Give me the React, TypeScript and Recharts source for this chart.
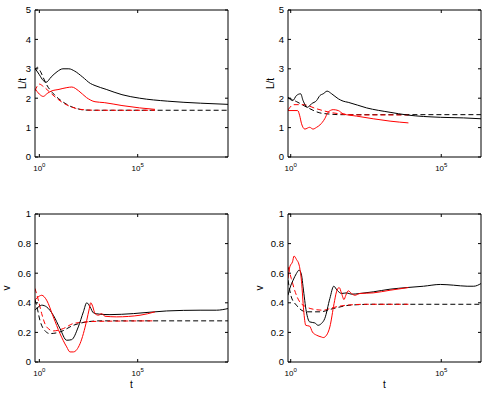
import { LineChart, Line, XAxis, YAxis } from "recharts";

// each point is [log10(t), value]
type Pt = [number, number];

const FONT = '"Liberation Sans", Arial, Helvetica, sans-serif';

const xTicks = [1, 1e5];
const lTicks = [0, 1, 2, 3, 4, 5];
const vTicks = [0, 0.2, 0.4, 0.6, 0.8, 1];

// top left: L/t
const tlBlack: Pt[] = [
  [-0.22, 3.02], [0, 2.8], [0.2, 2.6], [0.34, 2.54], [0.6, 2.72], [0.9, 2.9],
  [1.2, 3.0], [1.5, 3.0], [1.8, 2.92], [2.2, 2.72], [2.6, 2.5], [2.83, 2.43],
  [3.4, 2.3], [4.2, 2.12], [5.1, 2.0], [6.5, 1.9], [8.2, 1.83], [9.59, 1.79],
];
const tlBlackDash: Pt[] = [
  [-0.22, 2.95], [-0.1, 3.05], [0.05, 2.92], [0.2, 2.7], [0.37, 2.46], [0.65, 2.2],
  [0.97, 1.99], [1.25, 1.85], [1.56, 1.73], [1.9, 1.65], [2.24, 1.6], [2.8, 1.59],
  [9.59, 1.59],
];
const tlRed: Pt[] = [
  [-0.22, 2.33], [0, 2.14], [0.2, 2.06], [0.4, 2.16], [0.6, 2.24], [1.0, 2.3],
  [1.4, 2.36], [1.65, 2.38], [2.0, 2.25], [2.4, 2.02], [2.83, 1.88], [3.3, 1.85],
  [4.2, 1.75], [5.1, 1.67], [5.88, 1.62],
];
const tlRedDash: Pt[] = [
  [-0.22, 2.25], [0.0, 2.48], [0.2, 2.4], [0.54, 2.2], [0.84, 2.02], [1.14, 1.87],
  [1.4, 1.77], [1.64, 1.7], [2.0, 1.63], [2.4, 1.6], [3.0, 1.59], [5.88, 1.59],
];

// top right: L/t
const trBlack: Pt[] = [
  [-0.09, 2.03], [0.07, 1.92], [0.19, 2.09], [0.33, 2.15], [0.41, 1.92], [0.56, 1.69],
  [0.69, 1.81], [0.86, 1.92], [0.97, 2.09], [1.08, 2.15], [1.21, 2.24], [1.36, 2.15],
  [1.58, 1.98], [1.74, 1.9], [1.91, 1.86], [2.52, 1.67], [3.3, 1.52], [3.86, 1.43],
  [4.97, 1.35], [5.74, 1.33], [6.32, 1.3],
];
const trBlackDash: Pt[] = [
  [-0.09, 2.02], [0.2, 1.88], [0.58, 1.67], [0.97, 1.5], [1.3, 1.46], [1.63, 1.44],
  [6.32, 1.44],
];
const trRed: Pt[] = [
  [-0.09, 1.58], [0.23, 1.58], [0.3, 1.4], [0.36, 1.13], [0.47, 0.95], [0.63, 1.01],
  [0.74, 0.95], [0.86, 1.01], [0.97, 1.09], [1.13, 1.3], [1.24, 1.52], [1.41, 1.61],
  [1.58, 1.58], [1.74, 1.47], [2.19, 1.39], [2.74, 1.3], [3.3, 1.22], [3.91, 1.16],
];
const trRedDash: Pt[] = [
  [-0.09, 1.6], [0.1, 1.78], [0.41, 1.78], [0.86, 1.64], [1.3, 1.52], [1.63, 1.47],
  [2.19, 1.43], [3.91, 1.43],
];

// bottom left: v
const blBlack: Pt[] = [
  [-0.22, 0.35], [0, 0.377], [0.12, 0.384], [0.37, 0.372], [0.71, 0.316], [1.05, 0.226],
  [1.39, 0.147], [1.64, 0.151], [1.98, 0.237], [2.24, 0.339], [2.41, 0.4], [2.58, 0.372],
  [2.75, 0.332], [3.08, 0.323], [3.59, 0.32], [4.78, 0.327], [6.47, 0.345], [8.17, 0.35],
  [9.0, 0.35], [9.59, 0.361],
];
const blBlackDash: Pt[] = [
  [-0.22, 0.42], [-0.14, 0.384], [0.03, 0.282], [0.2, 0.226], [0.54, 0.192], [1.05, 0.203],
  [1.73, 0.248], [2.41, 0.271], [3.08, 0.278], [9.59, 0.278],
];
const blRed: Pt[] = [
  [-0.22, 0.42], [0, 0.445], [0.12, 0.451], [0.37, 0.418], [0.71, 0.305], [1.05, 0.192],
  [1.39, 0.102], [1.56, 0.068], [1.73, 0.068], [2.07, 0.124], [2.41, 0.282], [2.54, 0.361],
  [2.61, 0.4], [2.71, 0.377], [2.83, 0.327], [3.0, 0.316], [3.17, 0.327], [3.34, 0.309],
  [3.93, 0.305], [5.12, 0.316], [5.88, 0.339],
];
const blRedDash: Pt[] = [
  [-0.22, 0.497], [-0.05, 0.418], [0.12, 0.327], [0.37, 0.237], [0.71, 0.21], [1.22, 0.226],
  [1.73, 0.26], [2.41, 0.271], [3.08, 0.275], [5.88, 0.278],
];

// bottom right: v
const brBlack: Pt[] = [
  [-0.09, 0.451], [-0.03, 0.497], [0.08, 0.553], [0.19, 0.598], [0.28, 0.621], [0.36, 0.587],
  [0.41, 0.508], [0.52, 0.339], [0.63, 0.271], [0.8, 0.264], [0.91, 0.248], [1.02, 0.26],
  [1.13, 0.293], [1.3, 0.429], [1.43, 0.512], [1.54, 0.485], [1.69, 0.463], [1.86, 0.467],
  [2.02, 0.458], [2.3, 0.463], [2.74, 0.474], [3.3, 0.492], [3.86, 0.503], [4.41, 0.512],
  [4.97, 0.524], [5.41, 0.519], [5.86, 0.512], [6.08, 0.512], [6.32, 0.53],
];
const brBlackDash: Pt[] = [
  [-0.09, 0.553], [0.02, 0.44], [0.19, 0.384], [0.52, 0.339], [0.97, 0.339], [1.41, 0.361],
  [1.97, 0.384], [2.74, 0.39], [6.32, 0.39],
];
const brRed: Pt[] = [
  [-0.09, 0.564], [-0.03, 0.643], [0.06, 0.677], [0.11, 0.716], [0.19, 0.693], [0.28, 0.655],
  [0.36, 0.542], [0.43, 0.35], [0.5, 0.248], [0.63, 0.242], [0.72, 0.203], [0.86, 0.181],
  [1.02, 0.169], [1.08, 0.165], [1.19, 0.181], [1.3, 0.237], [1.44, 0.395], [1.52, 0.474],
  [1.61, 0.503], [1.69, 0.463], [1.77, 0.422], [1.83, 0.451], [1.91, 0.481], [2.02, 0.463],
  [2.13, 0.451], [2.3, 0.463], [2.74, 0.467], [3.3, 0.485], [3.91, 0.503],
];
const brRedDash: Pt[] = [
  [-0.09, 0.643], [0.02, 0.564], [0.13, 0.485], [0.3, 0.406], [0.52, 0.372], [0.74, 0.357],
  [1.08, 0.35], [1.41, 0.368], [1.86, 0.384], [2.52, 0.39], [3.91, 0.39],
];

const rows = (pts: Pt[]) => pts.map(([e, v]) => ({ t: Math.pow(10, e), v }));

const TICK = 3;

function LeftTick(props: any) {
  const { x, y, payload } = props;
  return (
    <g>
      <line x1={x} y1={y} x2={x + TICK} y2={y} stroke="#000" />
      <text x={x - 4} y={y} dy="0.35em" textAnchor="end" fontSize={9.5} fontFamily={FONT} fill="#000">
        {String(payload.value)}
      </text>
    </g>
  );
}

function RightTick(props: any) {
  const { x, y } = props;
  return <line x1={x} y1={y} x2={x - TICK} y2={y} stroke="#000" />;
}

function BottomTick(props: any) {
  const { x, y, payload } = props;
  const exp = Math.round(Math.log10(payload.value));
  return (
    <g>
      <line x1={x} y1={y} x2={x} y2={y - TICK} stroke="#000" />
      <text x={x} y={y + 14} textAnchor="middle" fontFamily={FONT} fill="#000">
        <tspan fontSize={8}>10</tspan>
        <tspan fontSize={6} dy={-4}>{exp}</tspan>
      </text>
    </g>
  );
}

function TopTick(props: any) {
  const { x, y } = props;
  return <line x1={x} y1={y} x2={x} y2={y + TICK} stroke="#000" />;
}

type PanelProps = {
  x: number;
  y: number;
  w: number;
  h: number;
  // plot box edges inside the panel
  box: { top: number; right: number; bottom: number; left: number };
  xExp: [number, number];
  yTicks: number[];
  black: Pt[];
  blackDash: Pt[];
  red: Pt[];
  redDash: Pt[];
  yLabel: string;
  yLabelX: number;
  showT: boolean;
};

function Panel(p: PanelProps) {
  const plotW = p.w - p.box.left - p.box.right;
  const plotH = p.h - p.box.top - p.box.bottom;
  // every axis takes 1px, so margins are one less than the box edges
  const margin = {
    top: p.box.top - 1,
    right: p.box.right - 1,
    bottom: p.box.bottom - 1,
    left: p.box.left - 1,
  };
  const domain = [Math.pow(10, p.xExp[0]), Math.pow(10, p.xExp[1])];
  const yDomain = [p.yTicks[0], p.yTicks[p.yTicks.length - 1]];
  const series = [
    { d: p.blackDash, c: "#000", dash: "5 3" },
    { d: p.redDash, c: "#ff0000", dash: "5 3" },
    { d: p.black, c: "#000", dash: undefined },
    { d: p.red, c: "#ff0000", dash: undefined },
  ];
  return (
    <div style={{ position: "absolute", left: p.x, top: p.y }}>
      <LineChart width={p.w} height={p.h} margin={margin}>
        <XAxis
          xAxisId="b"
          type="number"
          dataKey="t"
          scale="log"
          domain={domain}
          allowDataOverflow
          ticks={xTicks}
          interval={0}
          height={1}
          tickSize={0}
          tickMargin={0}
          tickLine={false}
          axisLine={{ stroke: "#000" }}
          tick={<BottomTick />}
          label={
            p.showT
              ? {
                  content: () => (
                    <text
                      x={p.box.left + plotW / 2}
                      y={p.box.top + plotH + 26}
                      textAnchor="middle"
                      fontSize={10}
                      fontFamily={FONT}
                      fill="#000"
                    >
                      t
                    </text>
                  ),
                }
              : undefined
          }
        />
        <XAxis
          xAxisId="top"
          orientation="top"
          type="number"
          dataKey="t"
          scale="log"
          domain={domain}
          allowDataOverflow
          ticks={xTicks}
          interval={0}
          height={1}
          tickSize={0}
          tickMargin={0}
          tickLine={false}
          axisLine={{ stroke: "#000" }}
          tick={<TopTick />}
        />
        <YAxis
          yAxisId="l"
          type="number"
          domain={yDomain}
          allowDataOverflow
          ticks={p.yTicks}
          interval={0}
          width={1}
          tickSize={0}
          tickMargin={0}
          tickLine={false}
          axisLine={{ stroke: "#000" }}
          tick={<LeftTick />}
          label={{
            content: () => (
              <text
                x={p.yLabelX}
                y={p.box.top + plotH / 2}
                textAnchor="middle"
                fontSize={10}
                fontFamily={FONT}
                fill="#000"
                transform={`rotate(-90 ${p.yLabelX} ${p.box.top + plotH / 2})`}
              >
                {p.yLabel}
              </text>
            ),
          }}
        />
        <YAxis
          yAxisId="r"
          orientation="right"
          type="number"
          domain={yDomain}
          allowDataOverflow
          ticks={p.yTicks}
          interval={0}
          width={1}
          tickSize={0}
          tickMargin={0}
          tickLine={false}
          axisLine={{ stroke: "#000" }}
          tick={<RightTick />}
        />
        {series.map((s, i) => (
          <Line
            key={i}
            xAxisId="b"
            yAxisId="l"
            data={rows(s.d)}
            dataKey="v"
            type="monotone"
            stroke={s.c}
            strokeWidth={1}
            strokeDasharray={s.dash}
            dot={false}
            activeDot={false}
            isAnimationActive={false}
          />
        ))}
      </LineChart>
    </div>
  );
}

export default function App() {
  return (
    <div
      style={{
        position: "absolute",
        left: 0,
        top: 0,
        width: 485,
        height: 393,
        background: "#fff",
        fontFamily: FONT,
      }}
    >
      <Panel
        x={0} y={0} w={245} h={200}
        box={{ top: 10, right: 17, bottom: 43, left: 35 }}
        xExp={[-0.22, 9.59]} yTicks={lTicks}
        black={tlBlack} blackDash={tlBlackDash} red={tlRed} redDash={tlRedDash}
        yLabel="L/t" yLabelX={25.5} showT={false}
      />
      <Panel
        x={245} y={0} w={240} h={200}
        box={{ top: 10, right: 4, bottom: 43, left: 43 }}
        xExp={[-0.09, 6.32]} yTicks={lTicks}
        black={trBlack} blackDash={trBlackDash} red={trRed} redDash={trRedDash}
        yLabel="L/t" yLabelX={28.5} showT={false}
      />
      <Panel
        x={0} y={200} w={245} h={193}
        box={{ top: 14, right: 17, bottom: 31, left: 35 }}
        xExp={[-0.22, 9.59]} yTicks={vTicks}
        black={blBlack} blackDash={blBlackDash} red={blRed} redDash={blRedDash}
        yLabel="v" yLabelX={9.5} showT={true}
      />
      <Panel
        x={245} y={200} w={240} h={193}
        box={{ top: 14, right: 4, bottom: 31, left: 43 }}
        xExp={[-0.09, 6.32]} yTicks={vTicks}
        black={brBlack} blackDash={brBlackDash} red={brRed} redDash={brRedDash}
        yLabel="v" yLabelX={18} showT={true}
      />
    </div>
  );
}
